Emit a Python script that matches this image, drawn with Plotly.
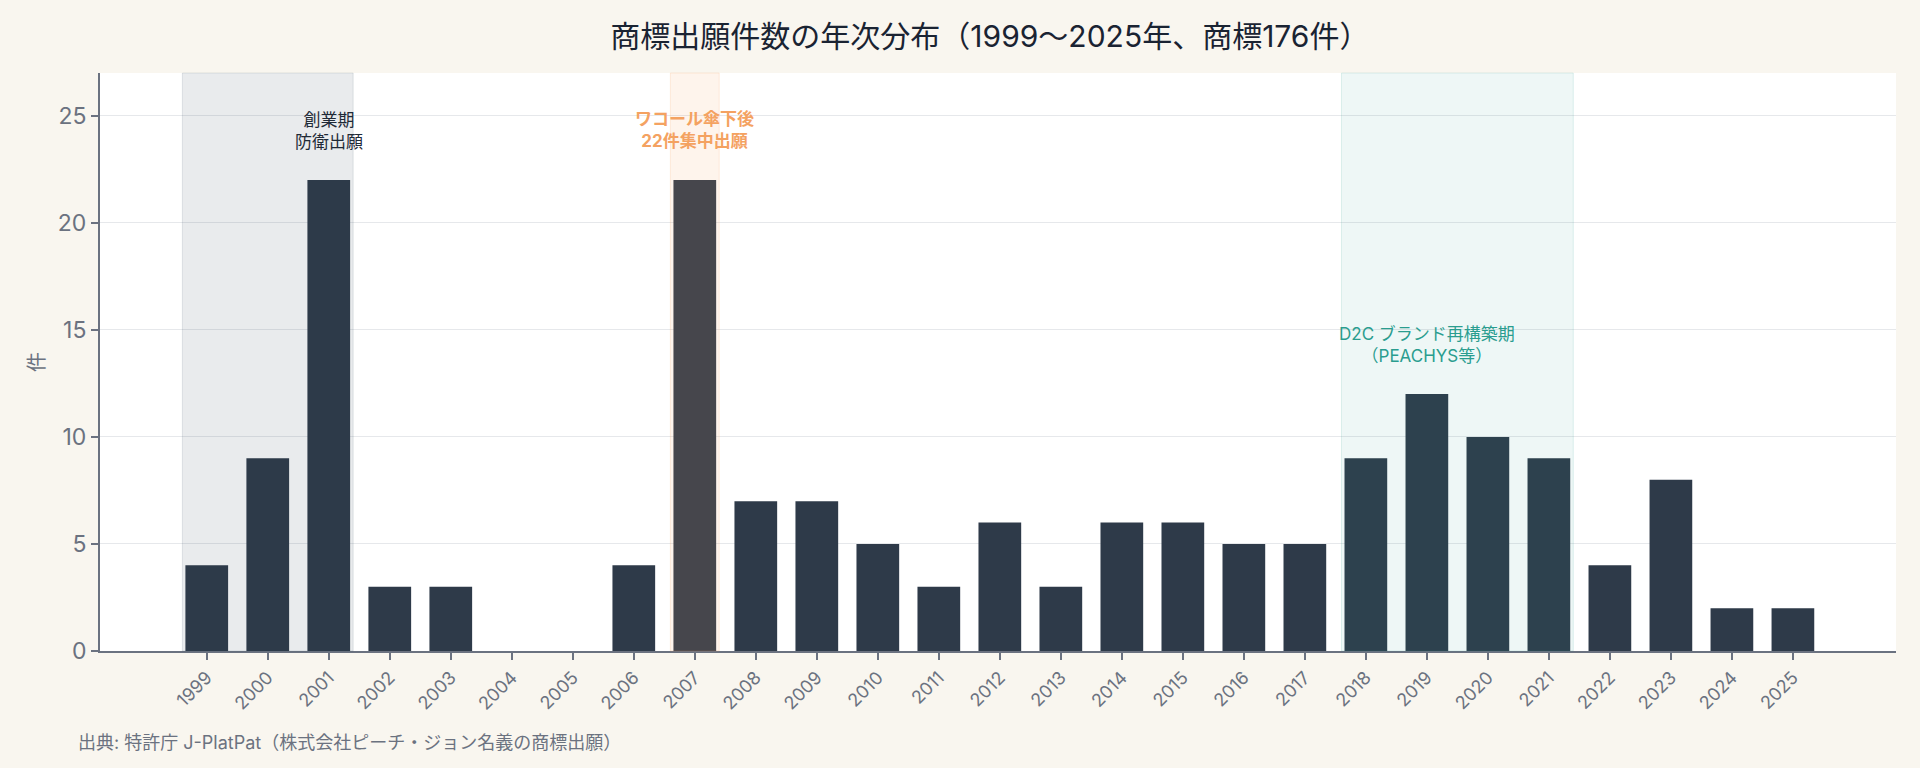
import plotly.graph_objects as go

years = list(range(1999, 2026))
counts = [4, 9, 22, 3, 3, 0, 0, 4, 22, 7, 7, 5, 3, 6, 3, 6, 6, 5, 5, 9, 12, 10, 9, 4, 8, 2, 2]
year_labels = [str(y) for y in years]
y_ticks = [0, 5, 10, 15, 20, 25]

periods = [
    dict(x0=1998.6, x1=2001.4, fill="rgba(44,62,80,0.10)", line="rgba(44,62,80,0.12)"),
    dict(x0=2006.6, x1=2007.4, fill="rgba(244,162,97,0.12)", line="rgba(244,162,97,0.18)"),
    dict(x0=2017.6, x1=2021.4, fill="rgba(42,157,143,0.08)", line="rgba(42,157,143,0.14)"),
]
notes = [
    dict(x=2001, y=24.3, text="創業期<br>防衛出願", color="#1f2a37"),
    dict(x=2007, y=24.35, text="<b>ワコール傘下後<br>22件集中出願</b>", color="#F4A261"),
    dict(x=2019, y=14.3, text="D2C ブランド再構築期<br>（PEACHYS等）", color="#2A9D8F"),
]

FONT = "Inter, 'Noto Sans CJK JP', 'Noto Sans', sans-serif"
AXIS_GRAY = "#6b7280"

fig = go.Figure()
fig.add_trace(go.Bar(
    x=years, y=counts, width=0.7,
    marker=dict(color="#2e3a49", line=dict(width=0)),
    hoverinfo="x+y",
))

shapes = []
for p in periods:
    shapes.append(dict(type="rect", xref="x", yref="paper", x0=p["x0"], x1=p["x1"], y0=0, y1=1,
                       fillcolor=p["fill"], line=dict(color=p["line"], width=1), layer="above"))

annotations = []
for n in notes:
    annotations.append(dict(x=n["x"], y=n["y"], xref="x", yref="y", text=n["text"], showarrow=False,
                            font=dict(size=17, color=n["color"], family=FONT),
                            xanchor="center", yanchor="middle", align="center"))

annotations.append(dict(xref="paper", yref="paper", x=-0.0351, y=0.5, text="件", showarrow=False,
                        textangle=-90, font=dict(size=20, color=AXIS_GRAY, family=FONT),
                        xanchor="center", yanchor="middle"))
annotations.append(dict(xref="paper", yref="paper", x=-0.01336, y=-0.159,
                        text="出典: 特許庁 J-PlatPat（株式会社ピーチ・ジョン名義の商標出願）",
                        showarrow=False, font=dict(size=18, color=AXIS_GRAY, family=FONT),
                        xanchor="left", yanchor="middle"))

fig.update_layout(
    width=1920, height=768,
    paper_bgcolor="#f9f6ef", plot_bgcolor="#ffffff",
    margin=dict(l=100, r=24, t=73, b=117),
    title=dict(text="商標出願件数の年次分布（1999～2025年、商標176件）",
               x=0.4955, xref="paper", xanchor="center",
               y=1 - 36 / 768, yref="container", yanchor="middle",
               font=dict(size=30, color="#1a2332", family=FONT)),
    font=dict(family=FONT),
    showlegend=False,
    shapes=shapes,
    annotations=annotations,
    xaxis=dict(range=[1997.25, 2026.69], tickmode="array", tickvals=years, ticktext=year_labels,
               tickangle=-45, ticks="outside", ticklen=7, tickwidth=1.5, tickcolor=AXIS_GRAY,
               showline=True, linecolor=AXIS_GRAY, linewidth=2, showgrid=False, zeroline=False,
               automargin=False,
               tickfont=dict(size=18, color=AXIS_GRAY, family=FONT)),
    yaxis=dict(range=[0, 27], tickmode="array", tickvals=y_ticks,
               ticks="outside", ticklen=7, tickwidth=1.5, tickcolor=AXIS_GRAY,
               showline=True, linecolor=AXIS_GRAY, linewidth=2, automargin=False,
               showgrid=True, gridcolor="#e6e8eb", gridwidth=1, zeroline=False,
               tickfont=dict(size=23, color=AXIS_GRAY, family=FONT)),
)

fig.write_html("out.html")
